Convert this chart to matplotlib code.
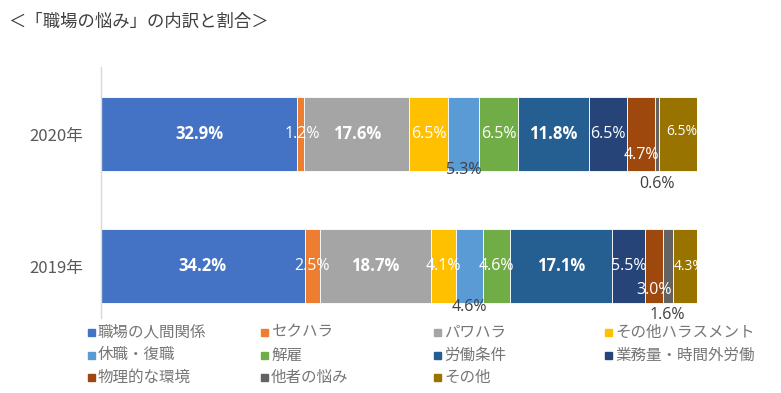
import matplotlib
matplotlib.use("Agg")
import matplotlib.pyplot as plt
from matplotlib.patches import Rectangle

plt.rcParams['font.family'] = ['Noto Sans CJK JP', 'DejaVu Sans']

years = ["2019年", "2020年"]
categories = ["職場の人間関係", "セクハラ", "パワハラ", "その他ハラスメント",
              "休職・復職", "解雇", "労働条件", "業務量・時間外労働",
              "物理的な環境", "他者の悩み", "その他"]
values_2019 = [34.2, 2.5, 18.7, 4.1, 4.6, 4.6, 17.1, 5.5, 3.0, 1.6, 4.3]
values_2020 = [32.9, 1.2, 17.6, 6.5, 5.3, 6.5, 11.8, 6.5, 4.7, 0.6, 6.5]
colors = ["#4472C4", "#ED7D31", "#A5A5A5", "#FFC000", "#5B9BD5", "#70AD47",
          "#255E91", "#264478", "#9E480E", "#636363", "#997300"]

W, H = 781, 393
fig = plt.figure(figsize=(W / 100, H / 100), dpi=100)
fig.patch.set_facecolor("white")

ax_l, ax_r, ax_t, ax_b = 101, 697, 67, 318
ax = fig.add_axes([ax_l / W, 1 - ax_b / H, (ax_r - ax_l) / W, (ax_b - ax_t) / H])
ax.set_xlim(0, 100)
unit = 132
ax.set_ylim(-(ax_b - 266) / unit, 1 + (134 - ax_t) / unit)
bar_h = 74 / unit

label_style_2020 = [("wb", 0, 0, 12), ("w", 0.2, 0, 11.5), ("wb", 0, 0, 12), ("w", 0, 0, 11.5),
                    ("d", 0, -0.27, 11.5), ("w", 0, 0, 11.5), ("wb", 0, 0, 12), ("w", 0, 0, 11.5),
                    ("w", 0, -0.16, 11.5), ("d", 0, -0.38, 11.5), ("w", 0.6, 0.02, 10)]
label_style_2019 = [("wb", 0, 0, 12), ("w", 0, 0, 11.5), ("wb", 0, 0, 12), ("w", 0, 0, 11.5),
                    ("d", 0, -0.31, 11.5), ("w", 0, 0, 11.5), ("wb", 0, 0, 12), ("w", 0, 0, 11.5),
                    ("w", 0, -0.18, 11.5), ("d", 0, -0.37, 11.5), ("w", 0.7, 0, 10)]

for ypos, vals, styles in [(1, values_2020, label_style_2020), (0, values_2019, label_style_2019)]:
    left = 0
    for v, c, (st, dx, dy, fs) in zip(vals, colors, styles):
        ax.barh(ypos, v, left=left, height=bar_h, color=c, edgecolor="white", linewidth=0.6)
        cx = left + v / 2 + dx
        col = "white" if st.startswith("w") else "#404040"
        weight = "bold" if st.endswith("b") else "normal"
        ax.text(cx, ypos + dy, f"{v:.1f}%", ha="center", va="center", color=col,
                fontsize=fs, fontweight=weight, family=["Open Sans", "DejaVu Sans"])
        left += v

ax.set_yticks([0, 1])
ax.set_yticklabels(years, fontsize=12, color="#595959")
ax.tick_params(axis="y", length=0, pad=13)
ax.set_xticks([])
for s in ["top", "right", "bottom"]:
    ax.spines[s].set_visible(False)
ax.spines["left"].set_color("#D9D9D9")
ax.spines["left"].set_linewidth(1)

fig.text(8 / W, 1 - 22 / H, "＜「職場の悩み」の内訳と割合＞", fontsize=12.5, color="#404040",
         ha="left", va="center")

col_x = [88, 261, 434, 605]
row_y = [332, 355, 377]
for i, (cat, c) in enumerate(zip(categories, colors)):
    r, k = divmod(i, 4)
    x = col_x[k]
    y = row_y[r]
    fig.patches.append(Rectangle((x / W, 1 - (y + 3.5) / H), 7 / W, 7 / H,
                                 transform=fig.transFigure, color=c))
    fig.text((x + 10) / W, 1 - y / H, cat, fontsize=11.2, color="#767676",
             ha="left", va="center")

fig.savefig("out.png", dpi=100)
